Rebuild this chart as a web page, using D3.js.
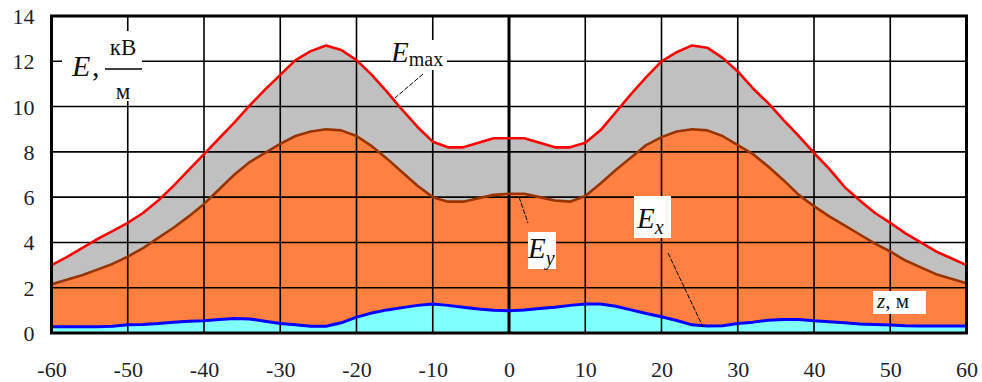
<!DOCTYPE html>
<html>
<head>
<meta charset="utf-8">
<script src="https://cdn.jsdelivr.net/npm/d3@7/dist/d3.min.js"></script>
<style>
  html, body { margin: 0; padding: 0; background: #fff; }
  svg { display: block; }
  svg text { font-family: "Liberation Serif", "DejaVu Serif", "Noto Serif", serif !important; }
</style>
</head>
<body>
<svg id="chart" width="982" height="382"></svg>
<script>
// Distance along the line, m
const zValues = [-60,-58,-56,-54,-52,-50,-48,-46,-44,-42,-40,-38,-36,-34,-32,-30,-28,-26,-24,-22,-20,-18,-16,-14,-12,-10,-8,-6,-4,-2,
                 0,2,4,6,8,10,12,14,16,18,20,22,24,26,28,30,32,34,36,38,40,42,44,46,48,50,52,54,56,58,60];
// Field strength, kV/m
const eMax = [3.0,3.35,3.75,4.15,4.5,4.86,5.3,5.85,6.5,7.2,7.9,8.6,9.3,10.05,10.75,11.4,12.05,12.45,12.7,12.5,12.05,11.4,10.65,9.85,9.1,8.45,8.2,8.2,8.4,8.6,
              8.6,8.6,8.4,8.2,8.2,8.4,8.95,9.75,10.55,11.3,12.0,12.4,12.7,12.6,12.15,11.55,10.8,10.15,9.4,8.7,7.95,7.25,6.45,5.85,5.3,4.86,4.4,4.0,3.6,3.3,3.0];
const eY = [2.15,2.35,2.55,2.8,3.05,3.37,3.75,4.2,4.65,5.15,5.7,6.35,7.0,7.55,7.95,8.35,8.7,8.9,9.0,8.95,8.7,8.25,7.7,7.1,6.5,6.0,5.8,5.8,5.95,6.1,
            6.15,6.15,6.0,5.85,5.8,6.05,6.6,7.2,7.75,8.3,8.65,8.9,9.0,8.95,8.7,8.3,7.9,7.35,6.75,6.1,5.6,5.15,4.75,4.35,3.95,3.6,3.2,2.9,2.6,2.4,2.2];
const eX = [0.28,0.28,0.28,0.28,0.3,0.36,0.38,0.42,0.48,0.52,0.54,0.6,0.64,0.62,0.52,0.42,0.36,0.3,0.3,0.45,0.7,0.88,1.02,1.12,1.22,1.28,1.22,1.14,1.06,1.0,
            0.98,1.02,1.08,1.14,1.22,1.28,1.28,1.18,1.02,0.86,0.72,0.55,0.36,0.31,0.32,0.42,0.48,0.56,0.6,0.6,0.54,0.5,0.45,0.4,0.38,0.35,0.32,0.31,0.31,0.31,0.31];

const xTicks = [-60,-50,-40,-30,-20,-10,0,10,20,30,40,50,60];
const yTicks = [0,2,4,6,8,10,12,14];

const svg = d3.select("#chart");
const plotL = 51.5, plotR = 966.5, plotT = 16, plotB = 333;

const x = d3.scaleLinear().domain([-60, 60]).range([plotL, plotR]);
const y = d3.scaleLinear().domain([0, 14]).range([plotB, plotT]);

const series = [
  { values: eMax, fill: "#c0c0c0", stroke: "#ff0000", width: 2.6 },
  { values: eY,   fill: "#ff8040", stroke: "#993300", width: 2.6 },
  { values: eX,   fill: "#80ffff", stroke: "#0000ff", width: 3 }
];

const area = vals => d3.area()
  .x((d, i) => x(zValues[i]))
  .y0(y(0))
  .y1((d, i) => y(vals[i]))(vals);
const line = vals => d3.line()
  .x((d, i) => x(zValues[i]))
  .y((d, i) => y(vals[i]))(vals);

// filled areas
series.forEach(s => {
  svg.append("path").attr("d", area(s.values)).attr("fill", s.fill);
});

// grid
const grid = svg.append("g");
xTicks.forEach(t => {
  grid.append("line")
    .attr("x1", x(t)).attr("x2", x(t)).attr("y1", plotT).attr("y2", plotB)
    .attr("stroke", "#000").attr("stroke-width", t === 0 ? 3 : 1.6);
});
yTicks.forEach(t => {
  grid.append("line")
    .attr("x1", plotL).attr("x2", plotR).attr("y1", y(t)).attr("y2", y(t))
    .attr("stroke", "#000").attr("stroke-width", 1.6);
});

// curves
series.forEach(s => {
  svg.append("path").attr("d", line(s.values))
    .attr("fill", "none").attr("stroke", s.stroke)
    .attr("stroke-width", s.width).attr("stroke-linejoin", "round");
});

// frame
svg.append("rect")
  .attr("x", plotL).attr("y", plotT).attr("width", plotR - plotL).attr("height", plotB - plotT)
  .attr("fill", "none").attr("stroke", "#000").attr("stroke-width", 3);

// axes (tick labels only)
const xAxis = d3.axisBottom(x).tickValues(xTicks).tickSize(0).tickPadding(0);
const gx = svg.append("g").attr("transform", `translate(0,${plotB})`).call(xAxis);
gx.select(".domain").remove();
gx.selectAll("text")
  .attr("y", 44).attr("dy", null)
  .attr("font-size", 22).attr("fill", "#1e1e28")
  .text(d => d < 0 ? "-" + Math.abs(d) : d);

const yAxis = d3.axisLeft(y).tickValues(yTicks).tickSize(0).tickPadding(0);
const gy = svg.append("g").attr("transform", `translate(${plotL},0)`).call(yAxis);
gy.select(".domain").remove();
gy.selectAll("text")
  .attr("x", -17).attr("dy", "0.34em")
  .attr("font-size", 22).attr("fill", "#1e1e28");

// annotations
const ann = svg.append("g").attr("fill", "#111");

function box(x0, y0, w, h) {
  ann.append("rect").attr("x", x0).attr("y", y0).attr("width", w).attr("height", h).attr("fill", "#fff");
}
function leader(x1, y1, x2, y2) {
  ann.append("line").attr("x1", x1).attr("y1", y1).attr("x2", x2).attr("y2", y2)
    .attr("stroke", "#000").attr("stroke-width", 1).attr("stroke-dasharray", "5,1.5");
}

// E, kV/m
box(62, 31, 80, 70);
ann.append("text").attr("x", 72).attr("y", 76).attr("font-size", 30).attr("font-style", "italic").text("E");
ann.append("text").attr("x", 92).attr("y", 76).attr("font-size", 30).text(",");
ann.append("text").attr("x", 123).attr("y", 55).attr("text-anchor", "middle").attr("font-size", 23).text("кВ");
ann.append("line").attr("x1", 105).attr("x2", 142).attr("y1", 69).attr("y2", 69).attr("stroke", "#000").attr("stroke-width", 1.3);
ann.append("text").attr("x", 123).attr("y", 99).attr("text-anchor", "middle").attr("font-size", 23).text("м");

// E_max
box(391, 40, 56, 30);
const tMax = ann.append("text").attr("x", 391).attr("y", 62);
tMax.append("tspan").attr("font-size", 29).attr("font-style", "italic").text("E");
tMax.append("tspan").attr("font-size", 20).attr("dy", 4).text("max");
leader(423, 74, 395, 98);

// E_y
leader(519, 197, 528, 223);
box(528, 232, 28, 37);
const tY = ann.append("text").attr("x", 528).attr("y", 258);
tY.append("tspan").attr("font-size", 29).attr("font-style", "italic").text("E");
tY.append("tspan").attr("font-size", 20).attr("font-style", "italic").attr("dy", 7).text("y");

// E_x
box(634, 196, 37, 42);
const tX = ann.append("text").attr("x", 637).attr("y", 228);
tX.append("tspan").attr("font-size", 29).attr("font-style", "italic").text("E");
tX.append("tspan").attr("font-size", 20).attr("font-style", "italic").attr("dy", 6).text("x");
leader(668, 253, 703, 327);

// z, m
box(873, 291, 53, 23);
const tZ = ann.append("text").attr("x", 877).attr("y", 308).attr("font-size", 21);
tZ.append("tspan").attr("font-style", "italic").text("z");
tZ.append("tspan").text(", м");
</script>
</body>
</html>
